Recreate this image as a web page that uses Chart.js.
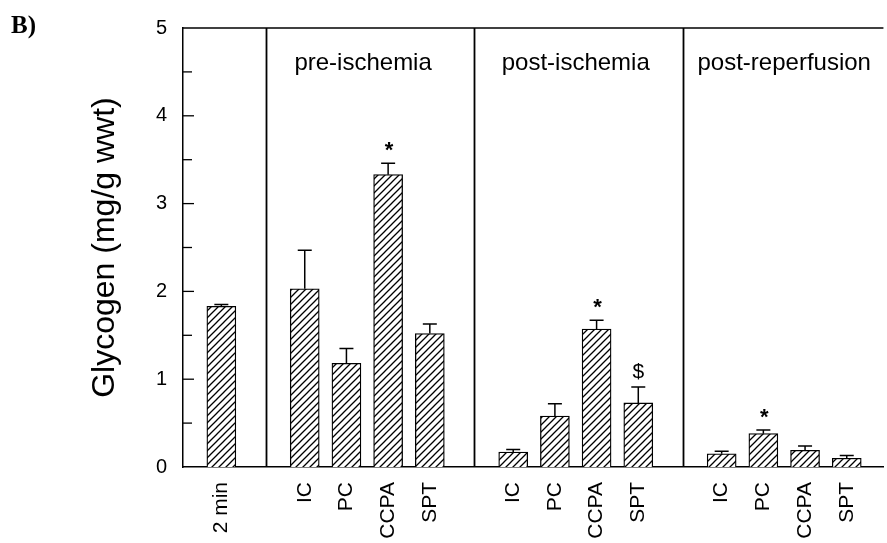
<!DOCTYPE html>
<html>
<head>
<meta charset="utf-8">
<script src="https://cdn.jsdelivr.net/npm/chart.js@4.4.1/dist/chart.umd.min.js"></script>
<style>
  body { margin: 0; background: #fff; }
  #wrap { width: 887px; height: 543px; position: relative; }
</style>
</head>
<body>
<div id="wrap"><canvas id="glycogenChart"></canvas></div>
<script>
// one slot per position on the x axis, empty slots are the gaps at the dividers
var slotLabels = ['2 min', '', 'IC', 'PC', 'CCPA', 'SPT', '', 'IC', 'PC', 'CCPA', 'SPT', '', 'IC', 'PC', 'CCPA', 'SPT'];
var means  = [1.83, null, 2.03, 1.18, 3.33, 1.52, null, 0.17, 0.58, 1.57, 0.73, null, 0.15, 0.38, 0.19, 0.10];
var errors = [0.02, null, 0.44, 0.17, 0.13, 0.11, null, 0.03, 0.14, 0.10, 0.18, null, 0.03, 0.04, 0.05, 0.03];
var marks  = ['', '', '', '', '*', '', '', '', '', '*', '$', '', '', '*', '', ''];
var groupTitles = ['pre-ischemia', 'post-ischemia', 'post-reperfusion'];
var groupCenters = [3.4, 8.5, 13.5];
var dividers = [1.08, 6.05, 11.08];
var yTicks = [0, 1, 2, 3, 4, 5];

var FONT = '"Liberation Sans", Arial, sans-serif';

function hatchPattern() {
    var c = document.createElement('canvas');
    c.width = 7; c.height = 7;
    var g = c.getContext('2d');
    g.fillStyle = '#fff';
    g.fillRect(0, 0, 7, 7);
    g.strokeStyle = '#000';
    g.lineWidth = 1.3;
    g.beginPath();
    g.moveTo(0, 7); g.lineTo(7, 0);
    g.moveTo(-1, 1); g.lineTo(1, -1);
    g.moveTo(6, 8); g.lineTo(8, 6);
    g.stroke();
    return g.createPattern(c, 'repeat');
}

var points = [];
means.forEach(function (v, i) {
    if (v !== null) points.push({x: i, y: v, err: errors[i], mark: marks[i]});
});

var extras = {
    id: 'extras',
    afterDatasetsDraw: function (chart) {
        var ctx = chart.ctx, a = chart.chartArea;
        var xs = chart.scales.x, ys = chart.scales.y;
        ctx.save();
        ctx.strokeStyle = '#000';

        // top frame line
        ctx.lineWidth = 1.5;
        ctx.beginPath();
        ctx.moveTo(a.left, a.top); ctx.lineTo(a.right, a.top);
        ctx.stroke();

        // dividers
        ctx.lineWidth = 1.8;
        dividers.forEach(function (d) {
            var x = Math.round(xs.getPixelForValue(d)) + 0.5;
            ctx.beginPath();
            ctx.moveTo(x, a.top); ctx.lineTo(x, a.bottom);
            ctx.stroke();
        });

        // inward ticks on y axis
        ctx.lineWidth = 1.3;
        for (var v = 0.5; v < 5; v += 0.5) {
            var y = ys.getPixelForValue(v);
            var len = (v % 1 === 0) ? 11 : 9;
            ctx.beginPath();
            ctx.moveTo(a.left, y); ctx.lineTo(a.left + len, y);
            ctx.stroke();
        }

        // error bars and markers
        var meta = chart.getDatasetMeta(0);
        ctx.fillStyle = '#000';
        ctx.textAlign = 'center';
        meta.data.forEach(function (bar, j) {
            var p = points[j];
            var top = ys.getPixelForValue(p.y + p.err);
            ctx.lineWidth = 1.5;
            ctx.beginPath();
            ctx.moveTo(bar.x, bar.y); ctx.lineTo(bar.x, top);
            ctx.moveTo(bar.x - 7, top); ctx.lineTo(bar.x + 7, top);
            ctx.stroke();
            if (p.mark === '*') {
                ctx.font = 'bold 22px ' + FONT;
                ctx.textBaseline = 'alphabetic';
                ctx.fillText('*', bar.x + 1, top - 6);
            } else if (p.mark) {
                ctx.font = '21px ' + FONT;
                ctx.textBaseline = 'middle';
                ctx.fillText(p.mark, bar.x, top - 15);
            }
        });

        // group titles
        ctx.font = '24px ' + FONT;
        ctx.textBaseline = 'alphabetic';
        groupTitles.forEach(function (t, k) {
            ctx.fillText(t, xs.getPixelForValue(groupCenters[k]), a.top + 42);
        });

        // panel letter
        ctx.textAlign = 'left';
        ctx.font = 'bold 25px "Liberation Serif", "Times New Roman", serif';
        ctx.fillText('B)', 11, 33);
        ctx.restore();
    }
};

new Chart(document.getElementById('glycogenChart'), {
    type: 'bar',
    data: {
        datasets: [{
            data: points,
            backgroundColor: hatchPattern(),
            borderColor: '#000',
            borderWidth: 1.3,
            barThickness: 29
        }]
    },
    options: {
        responsive: true,
        maintainAspectRatio: false,
        animation: false,
        layout: { padding: { top: 22, right: 1, left: 0, bottom: 0 } },
        plugins: { legend: { display: false }, tooltip: { enabled: false } },
        scales: {
            x: {
                type: 'linear',
                offset: false,
                min: -0.92,
                max: 15.88,
                grid: { display: false, drawTicks: false },
                border: { display: true, color: '#000', width: 1.5 },
                afterBuildTicks: function (s) {
                    s.ticks = slotLabels.map(function (l, i) { return {value: i}; });
                },
                afterFit: function (s) { s.height = 76; },
                ticks: {
                    autoSkip: false,
                    minRotation: 90,
                    maxRotation: 90,
                    padding: 15,
                    color: '#000',
                    font: { family: FONT, size: 21 },
                    callback: function (v, i) { return slotLabels[i]; }
                }
            },
            y: {
                min: 0,
                max: 5,
                grid: { display: false, drawTicks: false },
                border: { display: true, color: '#000', width: 1.5 },
                afterBuildTicks: function (s) {
                    s.ticks = yTicks.map(function (v) { return {value: v}; });
                },
                afterFit: function (s) { s.width = 183; },
                ticks: {
                    padding: 16,
                    color: '#000',
                    font: { family: FONT, size: 20 }
                },
                title: {
                    display: true,
                    text: 'Glycogen (mg/g wwt)',
                    color: '#000',
                    font: { family: FONT, size: 32 },
                    padding: { top: 86, bottom: 0 }
                }
            }
        }
    },
    plugins: [extras]
});
</script>
</body>
</html>
